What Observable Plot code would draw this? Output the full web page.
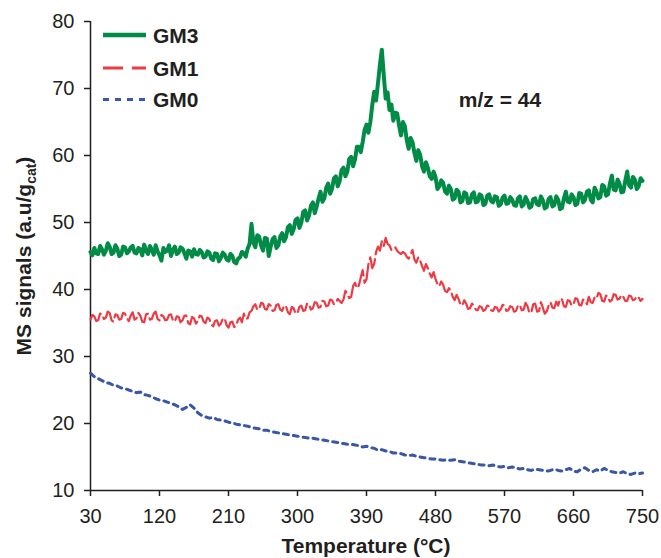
<!DOCTYPE html>
<html>
<head>
<meta charset="utf-8">
<script src="https://cdn.jsdelivr.net/npm/d3@7"></script>
<script src="https://cdn.jsdelivr.net/npm/@observablehq/plot@0.6"></script>
<style>
  html, body { margin: 0; padding: 0; background: #fff; }
</style>
</head>
<body>
<script>
// Temperature grid (°C), 5-degree sampling for GM0
const temps = [
  30,35,40,45,50,55,60,65,70,75,
  80,85,90,95,100,105,110,115,120,125,
  130,135,140,145,150,155,160,165,170,175,
  180,185,190,195,200,205,210,215,220,225,
  230,235,240,245,250,255,260,265,270,275,
  280,285,290,295,300,305,310,315,320,325,
  330,335,340,345,350,355,360,365,370,375,
  380,385,390,395,400,405,410,415,420,425,
  430,435,440,445,450,455,460,465,470,475,
  480,485,490,495,500,505,510,515,520,525,
  530,535,540,545,550,555,560,565,570,575,
  580,585,590,595,600,605,610,615,620,625,
  630,635,640,645,650,655,660,665,670,675,
  680,685,690,695,700,705,710,715,720,725,
  730,735,740,745,750
];

// Temperature grid (°C), 2.5-degree sampling for GM3 and GM1
const tempsFine = [
  30,32.5,35,37.5,40,42.5,45,47.5,50,52.5,55,57.5,60,62.5,65,67.5,70,72.5,75,77.5,
  80,82.5,85,87.5,90,92.5,95,97.5,100,102.5,105,107.5,110,112.5,115,117.5,120,122.5,125,127.5,
  130,132.5,135,137.5,140,142.5,145,147.5,150,152.5,155,157.5,160,162.5,165,167.5,170,172.5,175,177.5,
  180,182.5,185,187.5,190,192.5,195,197.5,200,202.5,205,207.5,210,212.5,215,217.5,220,222.5,225,227.5,
  230,232.5,235,237.5,240,242.5,245,247.5,250,252.5,255,257.5,260,262.5,265,267.5,270,272.5,275,277.5,
  280,282.5,285,287.5,290,292.5,295,297.5,300,302.5,305,307.5,310,312.5,315,317.5,320,322.5,325,327.5,
  330,332.5,335,337.5,340,342.5,345,347.5,350,352.5,355,357.5,360,362.5,365,367.5,370,372.5,375,377.5,
  380,382.5,385,387.5,390,392.5,395,397.5,400,402.5,405,407.5,410,412.5,415,417.5,420,422.5,425,427.5,
  430,432.5,435,437.5,440,442.5,445,447.5,450,452.5,455,457.5,460,462.5,465,467.5,470,472.5,475,477.5,
  480,482.5,485,487.5,490,492.5,495,497.5,500,502.5,505,507.5,510,512.5,515,517.5,520,522.5,525,527.5,
  530,532.5,535,537.5,540,542.5,545,547.5,550,552.5,555,557.5,560,562.5,565,567.5,570,572.5,575,577.5,
  580,582.5,585,587.5,590,592.5,595,597.5,600,602.5,605,607.5,610,612.5,615,617.5,620,622.5,625,627.5,
  630,632.5,635,637.5,640,642.5,645,647.5,650,652.5,655,657.5,660,662.5,665,667.5,670,672.5,675,677.5,
  680,682.5,685,687.5,690,692.5,695,697.5,700,702.5,705,707.5,710,712.5,715,717.5,720,722.5,725,727.5,
  730,732.5,735,737.5,740,742.5,745,747.5,750
];

const gm3 = [
  45.6,45.1,46.2,45.4,45.3,46.5,46.0,45.2,45.8,46.9,46.4,45.3,45.5,46.6,46.1,45.0,45.2,46.4,46.3,45.4,
  45.7,46.3,46.5,45.5,45.4,46.2,46.0,45.1,46.7,45.8,45.3,46.5,45.9,45.2,46.6,45.7,45.1,44.3,46.2,45.6,
  45.8,46.6,45.0,45.9,46.4,45.3,45.5,46.3,46.1,45.4,44.6,45.8,45.7,44.9,46.0,45.3,45.2,45.9,45.6,44.8,
  44.9,45.7,45.5,44.6,44.4,45.4,45.3,44.2,44.7,45.5,45.2,44.5,44.3,45.3,45.0,44.1,43.9,44.6,44.8,45.6,
  45.4,44.9,46.1,46.8,49.8,47.0,46.3,48.1,47.9,46.6,45.8,47.7,47.6,45.0,46.4,47.5,47.8,46.2,46.6,47.9,
  48.4,47.2,47.8,49.3,49.6,48.3,49.0,50.4,50.6,49.2,50.0,51.6,51.8,50.3,51.0,52.5,53.0,51.4,52.4,53.6,
  54.6,53.1,53.6,55.2,55.8,54.3,55.0,56.6,56.9,55.4,56.2,57.8,58.2,56.9,57.6,59.5,59.8,58.4,59.4,61.3,
  61.3,60.5,62.0,63.8,64.6,63.4,65.0,67.5,69.5,68.2,70.8,73.5,75.8,72.0,68.5,69.4,66.8,67.6,65.2,66.4,
  66.3,64.5,63.0,65.0,64.4,62.3,61.0,62.6,62.0,60.4,59.2,60.8,60.1,58.4,57.6,59.0,58.2,56.9,56.5,57.6,
  56.8,55.0,55.4,56.3,55.9,54.6,54.3,55.5,55.0,53.4,53.6,54.9,54.6,53.0,53.2,54.5,54.3,52.9,53.0,54.2,
  54.5,53.0,53.1,54.2,54.0,52.6,52.8,54.0,54.2,53.2,53.0,53.9,53.8,52.5,52.7,53.7,54.0,52.8,52.9,53.8,
  53.4,52.6,52.5,53.6,53.9,52.4,52.7,53.8,53.2,52.2,52.4,53.5,53.6,52.7,52.6,53.9,53.3,52.1,52.3,53.5,
  53.8,52.4,52.6,53.9,53.4,52.0,52.2,53.6,54.6,53.1,53.0,54.2,53.8,52.6,52.8,54.4,54.3,53.0,53.4,54.6,
  54.8,53.4,53.0,55.2,54.6,53.6,53.8,55.6,55.4,54.0,54.2,55.8,57.0,54.9,54.8,56.4,55.8,54.5,54.6,56.2,
  57.6,55.6,55.2,56.8,56.4,55.0,55.4,56.6,56.2
];

const gm1 = [
  35.5,36.2,36.0,35.3,35.4,36.4,36.3,35.6,35.8,36.7,36.5,35.4,35.2,36.3,36.2,35.5,35.6,36.5,36.4,35.7,
  35.3,36.1,36.6,35.5,35.7,36.5,36.1,35.2,35.1,36.3,36.4,35.5,35.6,36.4,36.7,35.6,35.4,36.2,36.0,35.4,
  35.5,36.2,36.3,35.4,35.2,36.0,35.9,35.1,35.4,36.1,36.1,35.0,34.8,35.9,35.7,34.9,35.3,36.1,36.0,35.2,
  35.0,35.8,35.6,34.8,34.5,35.3,35.4,34.6,34.9,35.6,35.7,34.7,34.3,35.1,35.2,34.4,34.6,35.5,35.8,35.1,
  36.4,35.6,35.7,36.6,36.8,37.5,37.8,37.0,37.1,38.0,37.9,37.1,37.0,37.8,37.6,36.8,36.9,37.7,37.8,37.0,
  36.8,37.6,37.5,36.6,36.3,37.4,37.2,36.4,36.5,37.4,37.6,36.8,36.9,37.9,37.8,37.0,37.2,38.1,38.0,37.3,
  37.4,38.3,38.2,37.5,37.6,38.5,38.4,37.8,38.0,38.6,38.3,38.0,38.5,39.8,39.4,38.7,38.9,40.5,41.0,40.2,
  40.6,41.8,42.9,41.0,41.5,43.8,44.8,43.2,43.8,45.6,46.4,45.8,47.2,46.5,47.7,46.8,46.6,45.9,46.0,46.3,
  45.8,45.5,45.3,45.6,45.4,44.9,44.6,45.2,45.9,44.5,44.0,44.8,44.3,43.5,42.8,43.8,43.2,42.4,41.8,42.6,
  41.6,40.8,40.5,41.2,40.7,39.8,39.6,40.2,39.8,38.9,38.4,39.2,38.6,37.8,37.6,38.4,37.9,37.1,37.2,37.9,
  37.6,37.0,36.9,37.5,37.4,36.8,37.0,37.6,37.5,36.9,36.8,37.4,37.3,36.7,37.0,37.7,37.6,36.8,36.9,37.5,
  37.4,36.7,36.8,37.6,37.7,36.9,37.0,38.0,37.5,36.5,36.6,37.8,37.9,36.7,36.8,38.1,37.3,36.4,36.7,37.6,
  38.1,37.3,37.2,38.2,37.6,38.6,38.5,37.5,37.4,38.4,38.3,37.6,37.8,38.7,38.6,37.7,37.6,38.5,38.4,37.8,
  38.9,38.1,38.0,38.8,38.6,39.5,39.3,38.3,38.2,39.1,38.9,38.2,38.4,39.3,39.2,38.5,38.6,39.2,38.9,38.3,
  38.3,39.1,39.0,38.4,38.5,39.0,38.8,38.3,38.6
];

const gm0 = [
  27.5,27.0,26.7,26.4,26.1,26.0,25.7,25.6,25.3,25.2,
  25.0,24.8,24.6,24.7,24.3,24.2,24.0,23.7,23.5,23.4,
  23.2,23.0,22.8,22.5,22.1,22.4,22.8,22.3,21.6,21.2,
  21.0,20.8,20.9,20.6,20.5,20.4,20.2,20.1,19.9,19.8,
  19.7,19.6,19.4,19.3,19.2,19.0,19.0,18.8,18.7,18.6,
  18.5,18.4,18.3,18.2,18.1,18.0,17.9,17.8,17.8,17.7,
  17.6,17.5,17.4,17.3,17.2,17.1,17.0,16.9,16.9,16.8,
  16.7,16.5,16.6,16.4,16.3,16.0,16.1,15.9,15.8,15.6,
  15.6,15.5,15.3,15.2,15.3,15.1,15.0,14.9,14.8,14.7,
  14.7,14.6,14.5,14.6,14.5,14.6,14.4,14.3,14.2,14.1,
  14.0,13.9,13.8,13.8,13.7,13.8,13.6,13.5,13.6,13.4,
  13.5,13.4,13.2,13.3,13.1,13.0,13.2,13.1,13.0,12.9,
  13.0,13.2,13.0,12.9,13.1,13.3,12.9,12.8,13.2,13.4,
  13.0,12.8,13.1,12.9,13.3,13.0,12.8,12.7,12.6,12.8,
  12.5,12.4,12.6,12.5,12.6
];

const xTicks = [30,120,210,300,390,480,570,660,750];
const yTicks = [10,20,30,40,50,60,70,80];
const seriesNames = ["GM3","GM1","GM0"];
const seriesColors = ["#008C46","#EE3A43","#3A56A6"];
const annotationText = ["m/z = 44"];

const toRows = (ts, vals) => ts.map((t, i) => ({t, v: vals[i]}));

const ink = "#231f20";
const font = "Arial, 'Liberation Sans', sans-serif";
const chart = Plot.plot({
  width: 661,
  height: 558,
  marginTop: 21,
  marginRight: 19,
  marginBottom: 68,
  marginLeft: 90,
  style: {fontFamily: font, fontSize: "20px", color: ink, background: "#fff"},
  x: {domain: [30, 750]},
  y: {domain: [10, 80]},
  marks: [
    Plot.axisX({ticks: xTicks, tickSize: 6, tickPadding: 12, label: null, strokeWidth: 1.5}),
    Plot.axisY({ticks: yTicks, tickSize: 6, tickPadding: 10, label: null, strokeWidth: 1.5}),
    Plot.ruleX([30], {stroke: ink, strokeWidth: 1.5}),
    Plot.ruleY([10], {stroke: ink, strokeWidth: 1.5}),
    Plot.line(toRows(temps, gm0), {x: "t", y: "v", stroke: seriesColors[2], strokeWidth: 3, strokeDasharray: "5,5"}),
    Plot.line(toRows(tempsFine, gm1), {x: "t", y: "v", stroke: seriesColors[1], strokeWidth: 2.2, strokeDasharray: "22,5", strokeLinejoin: "round"}),
    Plot.line(toRows(tempsFine, gm3), {x: "t", y: "v", stroke: seriesColors[0], strokeWidth: 4, strokeLinejoin: "round"})
  ]
});

document.body.appendChild(chart);

const svg = d3.select(chart);

// Legend (top-left inside plot)
const legendDash = ["none", "20,9", "6,6"];
const legendWidth = [4.5, 3, 3];
const legendY = [35, 68, 99.5];
seriesNames.forEach((name, i) => {
  svg.append("line")
    .attr("x1", 103).attr("x2", 146)
    .attr("y1", legendY[i]).attr("y2", legendY[i])
    .attr("stroke", seriesColors[i]).attr("stroke-width", legendWidth[i])
    .attr("stroke-dasharray", legendDash[i]);
  svg.append("text")
    .attr("x", 153).attr("y", legendY[i] + 7.5)
    .attr("text-anchor", "start")
    .attr("font-family", font)
    .attr("font-size", 21).attr("font-weight", "bold").attr("fill", ink)
    .text(name);
});

// annotation
svg.append("text")
  .attr("x", 500).attr("y", 107)
  .attr("text-anchor", "middle")
  .attr("font-family", font)
  .attr("font-size", 21).attr("font-weight", "bold").attr("fill", ink)
  .text(annotationText[0]);

// x axis title
svg.append("text")
  .attr("x", 366).attr("y", 553)
  .attr("text-anchor", "middle")
  .attr("font-family", font)
  .attr("font-size", 21).attr("font-weight", "bold").attr("fill", ink)
  .text("Temperature (°C)");

// y axis title with subscript
const yt = svg.append("text")
  .attr("transform", "translate(31,256) rotate(-90)")
  .attr("text-anchor", "middle")
  .attr("font-family", font)
  .attr("font-size", 21).attr("font-weight", "bold").attr("fill", ink);
yt.append("tspan").text("MS signals (a.u/g");
yt.append("tspan").attr("font-size", 14).attr("dy", 5).text("cat");
yt.append("tspan").attr("dy", -5).text(")");
</script>
</body>
</html>
